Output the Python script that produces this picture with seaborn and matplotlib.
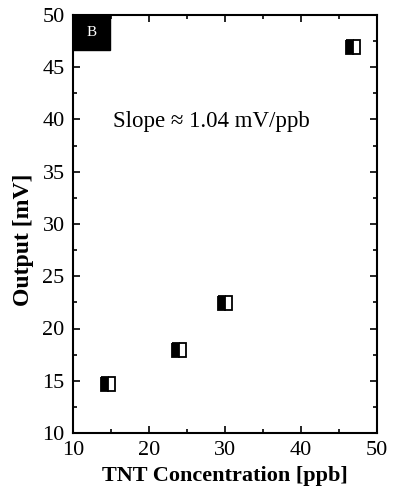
import matplotlib
matplotlib.use("Agg")
import matplotlib.pyplot as plt
import seaborn as sns
import pandas as pd
from matplotlib.ticker import MultipleLocator
from matplotlib.patches import Rectangle

conc = [14.6, 23.9, 30.0, 46.8]
output = [14.7, 17.9, 22.4, 46.9]
xticks = [10, 20, 30, 40, 50]
yticks = [10, 15, 20, 25, 30, 35, 40, 45, 50]

sns.set_style("ticks")
plt.rcParams['font.family'] = ['Liberation Serif', 'DejaVu Serif']
plt.rcParams['text.color'] = 'black'
plt.rcParams['axes.labelcolor'] = 'black'

df = pd.DataFrame({"conc": conc, "output": output})
fig = plt.figure(figsize=(3.94, 5.01), dpi=100)
L, R, T, B = 73, 377, 15, 433
ax = fig.add_axes([L/394, 1-B/501, (R-L)/394, (B-T)/501])

sns.lineplot(data=df, x="conc", y="output", ax=ax, linestyle='', marker='s',
             markersize=9.5, fillstyle='left', markerfacecolor='black',
             markerfacecoloralt='white', markeredgecolor='black',
             markeredgewidth=1.3, color='black')

ax.set_xlim(10, 50)
ax.set_ylim(10, 50)
ax.set_xticks(xticks)
ax.set_yticks(yticks)
ax.xaxis.set_minor_locator(MultipleLocator(5))
ax.yaxis.set_minor_locator(MultipleLocator(2.5))
ax.tick_params(which='both', direction='in', top=True, right=True, width=1.2,
               labelsize=16, colors='black')
ax.tick_params(axis='x', which='major', pad=6)
ax.tick_params(axis='y', which='major', pad=6)
ax.tick_params(which='major', length=5)
ax.tick_params(which='minor', length=3)
for s in ax.spines.values():
    s.set_linewidth(1.5)
    s.set_color('black')

ax.set_xlabel("TNT Concentration [ppb]", fontsize=16, fontweight='bold', labelpad=4)
ax.set_ylabel("Output [mV]", fontsize=17, fontweight='bold', labelpad=6)
ax.yaxis.label.set_y(0.462)

ax.text(28.2, 39.8, "Slope \u2248 1.04 mV/ppb", fontsize=16.5, ha='center', va='center')

bw = (110 - L) / (R - L)
bh = (50 - T) / (B - T)
ax.add_patch(Rectangle((0, 1 - bh), bw, bh, transform=ax.transAxes,
                       facecolor='black', edgecolor='black', clip_on=False, zorder=5))
ax.text(bw / 2, 1 - bh / 2, "B", transform=ax.transAxes, ha='center', va='center',
        color='white', fontsize=11, zorder=6)

fig.savefig("out.png", dpi=100)
